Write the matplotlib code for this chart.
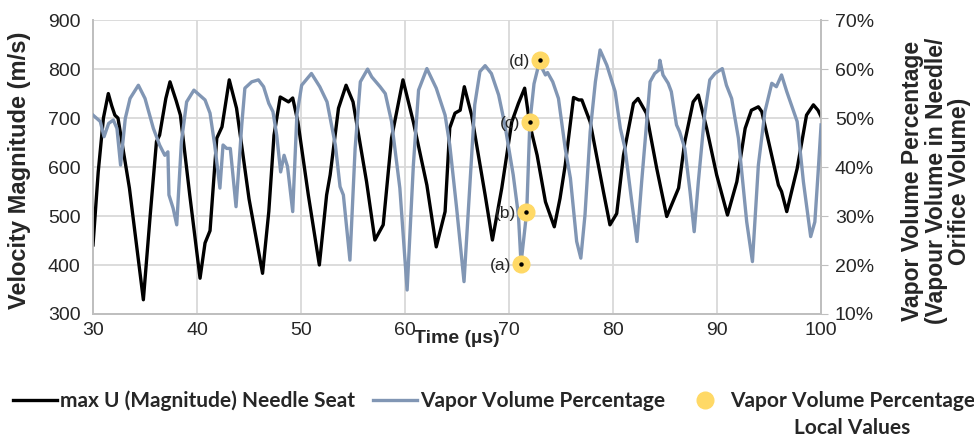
import numpy as np
import matplotlib.pyplot as plt
from matplotlib.lines import Line2D

# max U (Magnitude) at the needle seat, m/s
time_u = [30.0, 30.5, 31.0, 31.47, 31.8, 32.1, 32.4, 33.5, 34.84, 35.5, 36.1, 36.4,
          37.0, 37.4, 38.0, 38.4, 39.3, 40.29, 40.77, 41.25, 41.9, 42.4, 43.1, 43.8,
          45.0, 46.3, 46.9, 47.4, 48.0, 48.8, 49.2, 49.7, 50.7, 51.76, 52.46, 52.8,
          53.6, 54.33, 55.0, 56.3, 57.1, 57.9, 58.7, 59.8, 60.8, 62.1, 63.0, 63.85,
          64.3, 64.8, 65.3, 65.7, 66.4, 67.7, 68.4, 69.3, 70.26, 70.9, 71.5, 72.0,
          72.7, 73.5, 74.35, 74.9, 75.4, 76.2, 76.7, 77.0, 77.3, 77.8, 79.07, 79.7,
          80.35, 81.0, 81.96, 82.4, 83.2, 84.2, 85.16, 86.3, 86.9, 87.7, 88.2, 89.0,
          89.96, 91.0, 91.9, 92.7, 93.3, 93.97, 94.3, 95.1, 95.9, 96.2, 96.7, 97.7,
          98.6, 99.26, 99.7, 100.0]
vel_u = [441, 590, 700, 750, 725, 706, 700, 557, 329, 502, 652, 665,
         740, 774, 735, 706, 543, 373, 445, 470, 659, 682, 778, 720,
         535, 383, 509, 665, 743, 733, 741, 692, 543, 400, 543, 584,
         720, 767, 733, 570, 451, 482, 659, 778, 692, 563, 437, 509,
         680, 710, 716, 764, 706, 543, 451, 557, 692, 730, 761, 686,
         624, 529, 478, 536, 604, 742, 737, 737, 720, 692, 550, 482,
         505, 624, 730, 740, 710, 597, 499, 557, 652, 733, 747, 679,
         584, 502, 570, 679, 716, 723, 713, 638, 563, 550, 509, 597,
         706, 727, 716, 703]

# vapour volume percentage in needle/orifice volume, %
time_vap = [30.0, 30.7, 31.06, 31.5, 31.95, 32.3, 32.65, 33.1, 33.56, 34.36, 35.0, 35.8,
            36.4, 36.9, 37.2, 37.3, 37.7, 38.05, 38.5, 39.0, 39.7, 40.77, 41.25, 41.7,
            42.2, 42.5, 42.85, 43.2, 43.75, 44.3, 44.6, 45.26, 45.9, 46.4, 46.9, 47.3,
            47.66, 48.04, 48.37, 48.7, 49.2, 49.6, 50.06, 51.0, 51.8, 52.5, 53.3, 53.75,
            54.07, 54.7, 55.2, 55.7, 56.4, 56.8, 57.6, 58.1, 58.7, 59.5, 60.2, 60.8,
            61.3, 62.1, 63.0, 63.85, 64.3, 64.96, 65.67, 66.25, 66.7, 67.2, 67.7, 68.3,
            69.0, 69.6, 70.4, 70.9, 71.15, 71.7, 72.0, 72.4, 72.9, 73.5, 73.7, 74.2,
            74.75, 75.4, 75.9, 76.5, 76.9, 77.3, 77.8, 78.3, 78.75, 79.4, 80.2, 80.7,
            81.15, 81.8, 82.3, 82.75, 83.56, 84.0, 84.4, 84.5, 84.8, 85.3, 85.6, 86.1,
            86.4, 86.9, 87.4, 87.8, 88.2, 88.8, 89.3, 89.8, 90.5, 90.9, 91.4, 92.05,
            92.85, 93.4, 93.97, 94.6, 95.26, 95.7, 96.2, 96.7, 97.7, 98.3, 99.0, 99.4,
            99.7, 100.0]
vap_pct = [50.6, 49.3, 46.2, 48.9, 49.6, 47.9, 40.4, 49.9, 54.0, 56.7, 54.0, 47.9,
           44.5, 42.4, 43.1, 34.3, 31.6, 28.2, 45.2, 53.3, 55.7, 53.7, 51.0, 44.5,
           35.7, 44.5, 43.8, 43.8, 31.9, 48.6, 56.1, 57.4, 57.8, 56.4, 53.0, 51.3,
           46.5, 39.0, 42.4, 40.1, 30.9, 50.6, 56.7, 59.1, 56.4, 53.3, 44.5, 36.0,
           34.3, 21.0, 43.8, 57.4, 60.0, 58.4, 56.4, 55.0, 49.3, 35.7, 14.9, 40.4,
           55.7, 60.1, 56.1, 50.6, 44.5, 31.6, 16.6, 37.0, 52.7, 59.5, 60.7, 59.1,
           54.7, 48.6, 38.4, 30.2, 20.3, 30.9, 49.1, 57.0, 61.3, 58.8, 59.3, 57.4,
           54.0, 43.8, 37.7, 24.8, 21.4, 30.2, 47.2, 57.4, 63.9, 60.8, 55.4, 47.9,
           43.8, 32.9, 24.8, 37.0, 57.4, 59.1, 59.8, 61.8, 58.8, 57.1, 55.4, 48.6,
           47.2, 43.8, 35.0, 26.8, 37.0, 50.6, 57.8, 59.1, 60.1, 56.7, 54.0, 45.9,
           28.8, 20.7, 40.4, 51.3, 57.1, 56.4, 58.8, 55.4, 49.3, 37.0, 25.8, 28.8,
           38.4, 48.6]

# local values picked out on the vapour curve
local_time = [71.15, 71.63, 72.02, 72.98]
local_pct = [20.2, 30.8, 49.2, 61.8]
local_names = ["(a)", "(b)", "(c)", "(d)"]

BLACK = "#000000"
BLUE = "#8196b4"
GOLD = "#ffd966"
GRID = "#d9d9d9"
TXT = "#262626"

plt.rcParams.update({"font.family": ["Liberation Sans", "DejaVu Sans"],
                     "font.size": 14})

fig = plt.figure(figsize=(9.74, 4.37), dpi=100)
ax = fig.add_axes([0.0955, 0.2815, 0.7475, 0.6725])
ax2 = ax.twinx()

ax.plot(time_u, vel_u, color=BLACK, lw=2.4, solid_joinstyle="round", zorder=3)
ax2.plot(time_vap, vap_pct, color=BLUE, lw=2.4, solid_joinstyle="round", zorder=3)
ax2.plot(local_time, local_pct, ls="none", marker="o", ms=12, mfc=GOLD, mec=GOLD, zorder=4)
ax2.plot(local_time, local_pct, ls="none", marker="o", ms=2.2, color=BLACK, zorder=5)
for t, p, name in zip(local_time, local_pct, local_names):
    ax2.annotate(name, (t, p), xytext=(-7, -1), textcoords="offset points",
                 ha="right", va="center", fontsize=12.5, color=TXT, zorder=6)

ax.set_xlim(30, 100)
ax.set_ylim(300, 900)
ax2.set_ylim(10, 70)
ax.set_xticks(np.arange(30, 101, 10))
ax.set_yticks(np.arange(300, 901, 100))
ax2.set_yticks(np.arange(10, 71, 10))
ax2.set_yticklabels([f"{v}%" for v in range(10, 71, 10)])

ax.grid(True, color=GRID, lw=1.3)
ax.set_axisbelow(True)
for a in (ax, ax2):
    for s in a.spines.values():
        s.set_color("#bfbfbf")
        s.set_linewidth(1.3)
    a.spines["top"].set_visible(False)
ax.tick_params(axis="both", length=0, labelsize=14, labelcolor=TXT)
ax.tick_params(axis="y", pad=9)
ax.tick_params(axis="x", pad=6)
ax2.tick_params(axis="y", length=5, color="#bfbfbf", labelsize=14, labelcolor=TXT, pad=5)

ax.set_xlabel("Time (\u00b5s)", fontsize=14, fontweight="bold", color=TXT, labelpad=-7)

# axis titles placed in figure coordinates
fig.text(0.02, 0.611, "Velocity Magnitude (m/s)", rotation=90, ha="center", va="center",
         fontsize=17, fontweight="bold", color=TXT)
fig.text(0.961, 0.586, "Vapor Volume Percentage\n(Vapour Volume in Needle/\nOrifice Volume)",
         rotation=90, ha="center", va="center", multialignment="center",
         fontsize=16.5, fontweight="bold", color=TXT, linespacing=1.05)

handles = [Line2D([], [], color=BLACK, lw=2.4),
           Line2D([], [], color=BLUE, lw=2.4),
           Line2D([], [], ls="none", marker="o", ms=12, mfc=GOLD, mec=GOLD)]
labels = ["max U (Magnitude) Needle Seat", "Vapor Volume Percentage",
          "Vapor Volume Percentage"]
leg_font = {"family": ["Lato", "DejaVu Sans"], "weight": "bold", "size": 15}
leg = fig.legend(handles, labels, loc="center left", bbox_to_anchor=(-0.006, 0.082),
                 ncol=3, frameon=False, handlelength=2.1, handletextpad=0.15,
                 columnspacing=0.87, prop=leg_font)
for txt in leg.get_texts():
    txt.set_color(TXT)

# second line of the last legend entry, centred under its first line
fig.canvas.draw()
bb = leg.get_texts()[2].get_window_extent()
fig.text((bb.x0 + bb.x1) / 2 / fig.bbox.width, (bb.y0 + bb.y1) / 2 / fig.bbox.height - 27 / 437,
         "Local Values", ha="center", va="center", color=TXT,
         fontfamily=leg_font["family"], fontweight="bold", fontsize=15)

fig.savefig("out.png", dpi=100)
